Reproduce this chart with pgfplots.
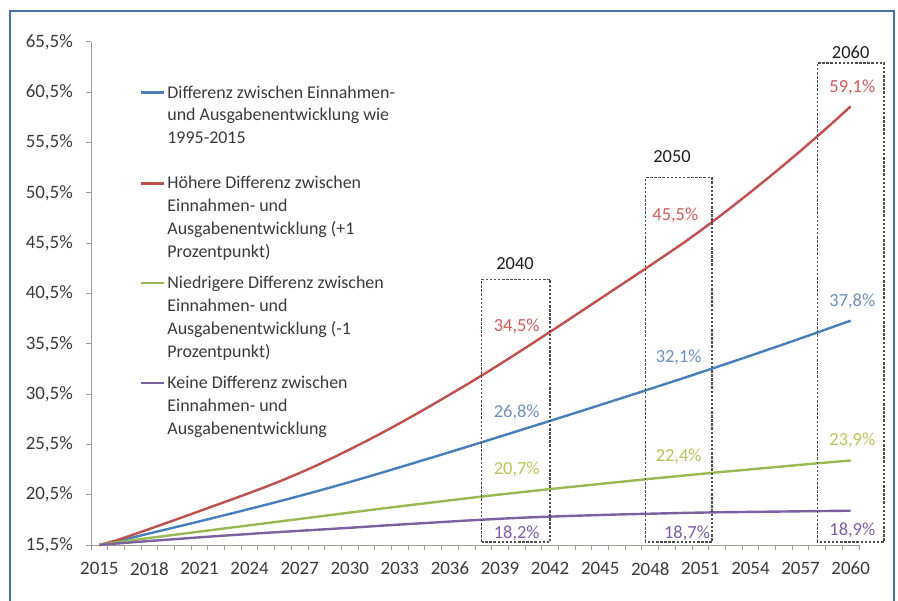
\documentclass[border=0pt]{standalone}
\usepackage{pgfplots}
\usepackage{pgfplotstable}
\pgfplotsset{compat=1.18}
\usepackage{fontspec}
\setmainfont{Carlito}
\definecolor{cBlue}{HTML}{4A7EBB}
\definecolor{cRed}{HTML}{C0504D}
\definecolor{cGreen}{HTML}{98B954}
\definecolor{cPurple}{HTML}{7D60A0}
\definecolor{lBlue}{HTML}{6E8FBC}
\definecolor{lRed}{HTML}{CD5C58}
\definecolor{lGreen}{HTML}{B9C25A}
\definecolor{lPurple}{HTML}{7B5EA7}
\definecolor{axisgray}{HTML}{A89C92}
\definecolor{labelgray}{HTML}{3A3A3A}
\definecolor{frameblue}{HTML}{4672A8}
\definecolor{boxgray}{HTML}{4D4D4D}

\pgfplotstableread{
year red blue green purple
2015 15.50 15.50 15.50 15.50
2016 15.95 15.85 15.75 15.64
2017 16.51 16.25 15.98 15.77
2018 17.09 16.65 16.20 15.90
2019 17.68 17.05 16.41 16.02
2020 18.27 17.45 16.62 16.14
2021 18.87 17.85 16.83 16.26
2022 19.47 18.26 17.04 16.38
2023 20.07 18.67 17.25 16.49
2024 20.68 19.09 17.46 16.60
2025 21.30 19.51 17.67 16.71
2026 21.96 19.94 17.88 16.81
2027 22.66 20.38 18.09 16.91
2028 23.40 20.83 18.30 17.01
2029 24.18 21.29 18.51 17.11
2030 25.00 21.76 18.72 17.21
2031 25.84 22.24 18.93 17.32
2032 26.71 22.73 19.14 17.43
2033 27.61 23.23 19.34 17.53
2034 28.54 23.73 19.54 17.63
2035 29.49 24.23 19.74 17.73
2036 30.46 24.74 19.94 17.83
2037 31.44 25.25 20.14 17.93
2038 32.45 25.76 20.33 18.02
2039 33.48 26.28 20.52 18.11
2040 34.54 26.80 20.70 18.19
2041 35.61 27.32 20.88 18.26
2042 36.69 27.84 21.06 18.32
2043 37.78 28.36 21.23 18.38
2044 38.88 28.89 21.40 18.43
2045 39.98 29.42 21.57 18.48
2046 41.08 29.95 21.74 18.53
2047 42.18 30.48 21.91 18.57
2048 43.29 31.02 22.08 18.61
2049 44.41 31.56 22.24 18.65
2050 45.54 32.10 22.40 18.69
2051 46.74 32.65 22.56 18.72
2052 47.98 33.20 22.72 18.75
2053 49.26 33.76 22.87 18.77
2054 50.57 34.32 23.02 18.79
2055 51.91 34.89 23.17 18.81
2056 53.28 35.46 23.32 18.83
2057 54.68 36.04 23.47 18.85
2058 56.12 36.62 23.62 18.87
2059 57.59 37.21 23.76 18.89
2060 59.10 37.80 23.90 18.91
}\data

\newcommand{\leg}[1]{\begin{tabular}[t]{@{}l@{}}#1\end{tabular}}

\begin{document}
\begin{tikzpicture}[
  lab/.style={font=\fontsize{18.5}{22}\selectfont},
  boxst/.style={draw=boxgray, line width=1.3bp, dash pattern=on 2.5bp off 1.6bp},
]
\path[use as bounding box] (0bp,0bp) rectangle (898bp,601bp);
\draw[frameblue, line width=2bp] (10bp,-5bp) -- (10bp,590bp) -- (894bp,590bp) -- (894bp,-5bp);
\begin{axis}[
  at={(91bp,56bp)}, anchor=south west,
  scale only axis, width=768bp, height=503bp,
  xmin=2014.5, xmax=2060.5, ymin=15.5, ymax=65.5,
  axis lines*=left,
  axis line style={draw=axisgray, line width=1bp},
  clip=false,
  xtick={2015,2018,2021,2024,2027,2030,2033,2036,2039,2042,2045,2048,2051,2054,2057,2060},
  xticklabels={2015,2018,2021,2024,2027,2030,2033,2036,2039,2042,2045,2048,2051,2054,2057,2060},
  minor xtick={2014.5,2015.5,2016.5,2017.5,2018.5,2019.5,2020.5,2021.5,2022.5,2023.5,2024.5,2025.5,2026.5,2027.5,2028.5,2029.5,2030.5,2031.5,2032.5,2033.5,2034.5,2035.5,2036.5,2037.5,2038.5,2039.5,2040.5,2041.5,2042.5,2043.5,2044.5,2045.5,2046.5,2047.5,2048.5,2049.5,2050.5,2051.5,2052.5,2053.5,2054.5,2055.5,2056.5,2057.5,2058.5,2059.5,2060.5},
  ytick={15.5,20.5,25.5,30.5,35.5,40.5,45.5,50.5,55.5,60.5,65.5},
  yticklabels={{15,5\%},{20,5\%},{25,5\%},{30,5\%},{35,5\%},{40,5\%},{45,5\%},{50,5\%},{55,5\%},{60,5\%},{65,5\%}},
  minor ytick={15.5,20.5,25.5,30.5,35.5,40.5,45.5,50.5,55.5,60.5,65.5},
  major tick length=0pt, minor tick length=5bp, tick align=outside,
  minor tick style={draw=axisgray, line width=1bp},
  tick label style={font=\fontsize{19}{22}\selectfont, text=labelgray},
  yticklabel style={inner sep=0pt, xshift=-18bp},
  xticklabel style={inner sep=0pt, yshift=-17bp},
  legend style={at={(0.0638,0.9205)}, anchor=north west, draw=none, fill=none,
    inner sep=0pt, outer sep=0pt, row sep=8bp, column sep=2bp,
    font=\fontsize{18}{23}\selectfont, text=labelgray,
    nodes={inner sep=0pt, text depth=, text height=}, cells={anchor=base west}},
  legend image code/.code={\draw[#1] (0bp,5.5bp) -- (23bp,5.5bp);},
]
\addplot[cBlue, line width=2.4bp, line join=round] table[x=year,y=blue]{\data};
\addlegendentry{\leg{Differenz zwischen Einnahmen-\\und Ausgabenentwicklung wie\\1995-2015\rule[-21bp]{0pt}{0pt}}}
\addplot[cRed, line width=2.4bp, line join=round] table[x=year,y=red]{\data};
\addlegendentry{\leg{Höhere Differenz zwischen\\Einnahmen- und\\Ausgabenentwicklung (+1\\Prozentpunkt)}}
\addplot[cGreen, line width=2.4bp, line join=round] table[x=year,y=green]{\data};
\addlegendentry{\leg{Niedrigere Differenz zwischen\\Einnahmen- und\\Ausgabenentwicklung (-1\\Prozentpunkt)}}
\addplot[cPurple, line width=2.4bp, line join=round] table[x=year,y=purple]{\data};
\addlegendentry{\leg{Keine Differenz zwischen\\Einnahmen- und\\Ausgabenentwicklung}}

\draw[boxst] (axis cs:2037.9,15.8) rectangle (axis cs:2042.0,41.9);
\draw[boxst] (axis cs:2047.7,15.8) rectangle (axis cs:2051.7,52.0);
\draw[boxst] (axis cs:2058.0,15.8) rectangle (axis cs:2062.0,63.4);

\node[lab, text=black!88] at (axis cs:2039.9,43.5) {2040};
\node[lab, text=black!88] at (axis cs:2049.3,54.1) {2050};
\node[lab, text=black!88] at (axis cs:2060.0,64.5) {2060};

\node[lab, text=lRed] at (axis cs:2040.0,37.2) {34,5\%};
\node[lab, text=lBlue] at (axis cs:2040.0,28.7) {26,8\%};
\node[lab, text=lGreen] at (axis cs:2040.0,23.0) {20,7\%};
\node[lab, text=lPurple] at (axis cs:2040.0,16.7) {18,2\%};

\node[lab, text=lRed] at (axis cs:2049.5,48.3) {45,5\%};
\node[lab, text=lBlue] at (axis cs:2049.7,34.1) {32,1\%};
\node[lab, text=lGreen] at (axis cs:2049.7,24.3) {22,4\%};
\node[lab, text=lPurple] at (axis cs:2050.2,16.7) {18,7\%};

\node[lab, text=lRed] at (axis cs:2060.1,61.0) {59,1\%};
\node[lab, text=lBlue] at (axis cs:2060.1,39.7) {37,8\%};
\node[lab, text=lGreen] at (axis cs:2060.1,25.9) {23,9\%};
\node[lab, text=lPurple] at (axis cs:2060.1,17.0) {18,9\%};
\end{axis}
\end{tikzpicture}
\end{document}
